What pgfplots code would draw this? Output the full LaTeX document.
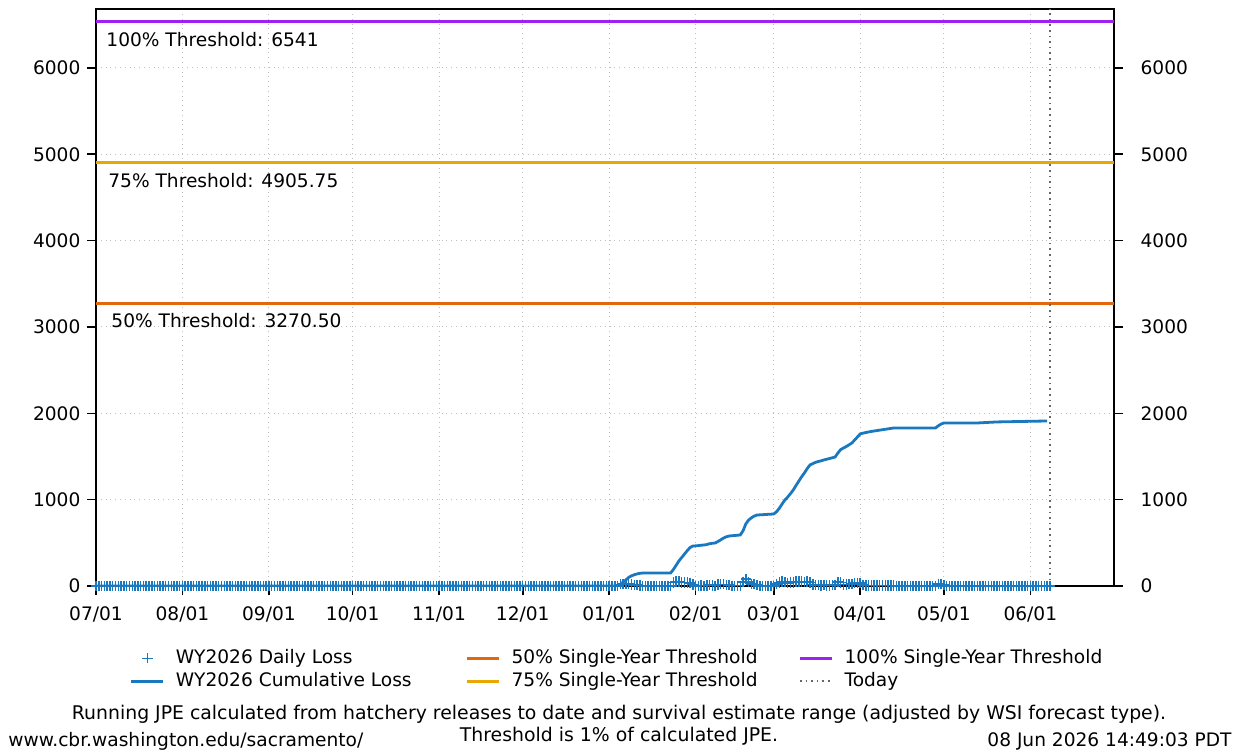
\documentclass[border=0pt]{standalone}
\usepackage{pgfplots}
\pgfplotsset{compat=1.18}
\usepackage{fontspec}
\setmainfont{DejaVu Sans}
\definecolor{cblue}{HTML}{1A78BE}
\definecolor{corange}{HTML}{E2680F}
\definecolor{cgold}{HTML}{E8A800}
\definecolor{cpurple}{HTML}{A020F0}
\pgfplotsset{
  linelegend/.style={legend image code/.code={\draw[##1] (0pt,0pt) -- (16pt,0pt);}},
  marklegend/.style={legend image code/.code={\draw[##1] plot coordinates {(8pt,0pt)};}},
}
\begin{document}
\fontsize{9.3}{11}\selectfont
\begin{tikzpicture}
\useasboundingbox (-48pt,-83pt) rectangle (571.5pt,293pt);
\begin{axis}[
 at={(0,0)}, anchor=south west,
 scale only axis, width=509pt, height=288.5pt,
 xmin=0, xmax=365, ymin=0, ymax=6682,
 xtick={0,31,62,92,123,153,184,215,243,274,304,335},
 xticklabels={07/01,08/01,09/01,10/01,11/01,12/01,01/01,02/01,03/01,04/01,05/01,06/01},
 ytick={0,1000,2000,3000,4000,5000,6000},
 xtick pos=bottom, ytick pos=both, yticklabel pos=left,
 tick align=outside,
 major tick length=4.5pt,
 xticklabel style={yshift=-2.5pt},
 grid=major, grid style={dotted, gray!50, line width=0.5pt},
 axis line style={line width=0.8pt},
 tick style={line width=0.8pt, black},
 /pgf/number format/assume math mode=true,
 /pgf/number format/1000 sep={},
 legend columns=3,
 legend cell align=left,
 linelegend,
 legend style={at={(0.033,-0.103)}, anchor=north west, draw=none, fill=none, inner sep=0pt,
   /tikz/every odd column/.append style={column sep=3.5pt},
   /tikz/column 2/.append style={column sep=25pt},
   /tikz/column 4/.append style={column sep=18.5pt},
   row sep=-1pt},
]
\addplot[only marks, mark=+, mark size=2.6pt, color=cblue, mark options={line width=0.75pt}, marklegend] coordinates {
(0,0)(1,0)(2,0)(3,0)(4,0)(5,0)(6,0)(7,0)(8,0)(9,0)
(10,0)(11,0)(12,0)(13,0)(14,0)(15,0)(16,0)(17,0)(18,0)(19,0)
(20,0)(21,0)(22,0)(23,0)(24,0)(25,0)(26,0)(27,0)(28,0)(29,0)
(30,0)(31,0)(32,0)(33,0)(34,0)(35,0)(36,0)(37,0)(38,0)(39,0)
(40,0)(41,0)(42,0)(43,0)(44,0)(45,0)(46,0)(47,0)(48,0)(49,0)
(50,0)(51,0)(52,0)(53,0)(54,0)(55,0)(56,0)(57,0)(58,0)(59,0)
(60,0)(61,0)(62,0)(63,0)(64,0)(65,0)(66,0)(67,0)(68,0)(69,0)
(70,0)(71,0)(72,0)(73,0)(74,0)(75,0)(76,0)(77,0)(78,0)(79,0)
(80,0)(81,0)(82,0)(83,0)(84,0)(85,0)(86,0)(87,0)(88,0)(89,0)
(90,0)(91,0)(92,0)(93,0)(94,0)(95,0)(96,0)(97,0)(98,0)(99,0)
(100,0)(101,0)(102,0)(103,0)(104,0)(105,0)(106,0)(107,0)(108,0)(109,0)
(110,0)(111,0)(112,0)(113,0)(114,0)(115,0)(116,0)(117,0)(118,0)(119,0)
(120,0)(121,0)(122,0)(123,0)(124,0)(125,0)(126,0)(127,0)(128,0)(129,0)
(130,0)(131,0)(132,0)(133,0)(134,0)(135,0)(136,0)(137,0)(138,0)(139,0)
(140,0)(141,0)(142,0)(143,0)(144,0)(145,0)(146,0)(147,0)(148,0)(149,0)
(150,0)(151,0)(152,0)(153,0)(154,0)(155,0)(156,0)(157,0)(158,0)(159,0)
(160,0)(161,0)(162,0)(163,0)(164,0)(165,0)(166,0)(167,0)(168,0)(169,0)
(170,0)(171,0)(172,0)(173,0)(174,0)(175,0)(176,0)(177,0)(178,0)(179,0)
(180,0)(181,0)(182,0)(183,0)(184,0)(185,0)(186,0)(187,0)
(188,20)(189,25)(190,25)(191,30)(192,18)(193,12)(194,10)(195,7)(196,3)
(197,0)(198,0)(199,0)(200,0)(201,0)(202,0)(203,0)(204,0)(205,0)(206,0)
(207,40)(208,50)(209,50)(210,40)(211,40)(212,40)(213,35)(214,18)
(215,2)(216,3)(217,4)(218,3)(219,5)(220,10)(221,5)(222,3)
(223,17)(224,20)(225,20)(226,15)(227,9)
(228,3)(229,3)(230,3)(231,3)
(232,49)(233,80)(234,44)(235,26)(236,20)(237,12)
(238,2)(239,2)(240,2)(241,2)(242,2)(243,2)
(244,26)(245,40)(246,50)(247,46)(248,34)(249,40)(250,42)(251,53)(252,50)(253,50)(254,44)(255,51)(256,42)
(257,16)(258,14)(259,10)(260,8)(261,10)(262,8)(263,8)(264,9)(265,9)
(266,46)(267,40)(268,18)(269,17)(270,20)(271,21)(272,34)(273,35)(274,36)
(275,9)(276,7)(277,7)(278,6)(279,5)(280,5)(281,5)(282,5)(283,5)(284,5)(285,5)(286,5)
(287,0)(288,0)(289,0)(290,0)(291,0)(292,0)(293,0)(294,0)(295,0)(296,0)(297,0)(298,0)(299,0)(300,0)(301,0)
(302,25)(303,20)(304,13)
(305,0)(306,0)(307,0)(308,0)(309,0)(310,0)(311,0)(312,0)(313,0)(314,0)(315,0)(316,0)
(317,2)(318,2)(319,2)(320,1)(321,1)(322,2)(323,2)
(324,1)(325,0)(326,1)(327,0)(328,1)(329,0)(330,1)(331,0)(332,1)(333,0)(334,1)(335,0)(336,1)(337,0)(338,1)(339,0)(340,2)(341,1)(342,0)
};
\addlegendentry{WY2026 Daily Loss}
\addplot[corange, line width=1.5pt] coordinates {(0,3270.5)(365,3270.5)};
\addlegendentry{50\% Single-Year Threshold}
\addplot[cpurple, line width=1.5pt] coordinates {(0,6541)(365,6541)};
\addlegendentry{100\% Single-Year Threshold}
\addplot[cblue, line width=1.4pt] coordinates {
(0,0)(187,0)(188,20)(189,45)(190,70)(191,100)(192,118)(193,130)(194,140)(195,147)(196,150)(206,150)
(207,190)(208,240)(209,290)(210,330)(211,370)(212,410)(213,445)(214,463)(215,465)(216,468)(217,472)(218,475)
(219,480)(220,490)(221,495)(222,498)(223,515)(224,535)(225,555)(226,570)(227,579)(228,582)(229,585)(230,588)(231,591)
(232,640)(233,720)(234,764)(235,790)(236,810)(237,822)(243,834)(244,860)(245,900)(246,950)(247,996)
(248,1030)(249,1070)(250,1112)(251,1165)(252,1215)(253,1265)(254,1309)(255,1360)(256,1402)
(257,1418)(258,1432)(259,1442)(260,1450)(261,1460)(262,1468)(263,1476)(264,1485)(265,1494)
(266,1540)(267,1580)(268,1598)(269,1615)(270,1635)(271,1656)(272,1690)(273,1725)(274,1761)
(275,1770)(276,1777)(277,1784)(278,1790)(279,1795)(286,1830)(301,1830)(302,1855)(303,1875)(304,1888)
(316,1888)(323,1900)(341,1911)};
\addlegendentry{WY2026 Cumulative Loss}
\addplot[cgold, line width=1.5pt] coordinates {(0,4905.75)(365,4905.75)};
\addlegendentry{75\% Single-Year Threshold}
\addplot[gray!80!black, dotted, line width=0.8pt] coordinates {(342,0)(342,6682)};
\addlegendentry{Today}
\node[anchor=west, inner sep=0pt] at (axis cs:3.6,6323) {100\% Threshold: 6541};
\node[anchor=west, inner sep=0pt] at (axis cs:4.3,4690) {75\% Threshold: 4905.75};
\node[anchor=west, inner sep=0pt] at (axis cs:5.4,3069) {50\% Threshold: 3270.50};
\end{axis}
\begin{axis}[
 at={(0,0)}, anchor=south west,
 scale only axis, width=509pt, height=288.5pt,
 xmin=0, xmax=365, ymin=0, ymax=6682,
 hide x axis, axis y line*=right,
 y axis line style={draw=none},
 ytick={0,1000,2000,3000,4000,5000,6000},
 major tick length=0pt,
 /pgf/number format/assume math mode=true,
 /pgf/number format/1000 sep={},
 yticklabel style={xshift=10pt},
]
\end{axis}
\node[font=\fontsize{9.43}{11}\selectfont] at (261.5pt,-64pt) {Running JPE calculated from hatchery releases to date and survival estimate range (adjusted by WSI forecast type).};
\node[font=\fontsize{9.43}{11}\selectfont] at (261.5pt,-75pt) {Threshold is 1\% of calculated JPE.};
\node[anchor=west, inner sep=0pt] at (-44pt,-77.5pt) {www.cbr.washington.edu/sacramento/};
\node[anchor=east, inner sep=0pt] at (568pt,-77.5pt) {08 Jun 2026 14:49:03 PDT};
\end{tikzpicture}
\end{document}
